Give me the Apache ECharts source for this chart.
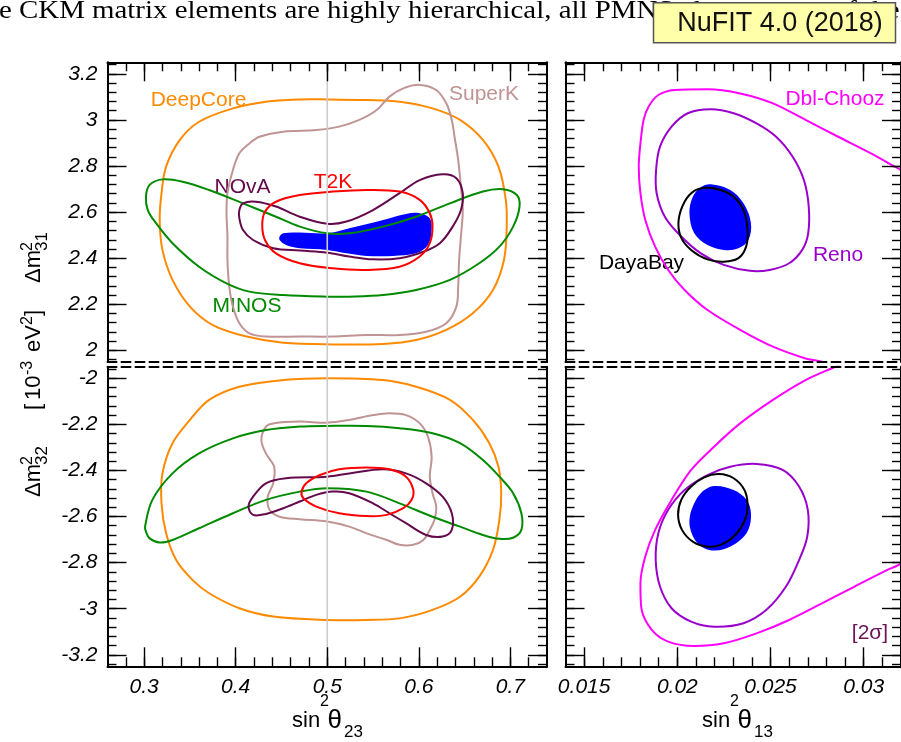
<!DOCTYPE html>
<html>
<head>
<meta charset="utf-8">
<script src="https://cdn.jsdelivr.net/npm/echarts@6/dist/echarts.min.js"></script>
<style>html,body{margin:0;padding:0;background:#fff;}#chart{width:901px;height:742px;}</style>
</head>
<body>
<div id="chart"></div>
<script>
// ---------- axis ranges and ticks ----------
const theta23Range = [0.26, 0.74];
const theta13Range = [0.014, 0.032];
const dm31Range = [1.95, 3.25];
const dm32Range = [-3.25, -1.95];

const theta23Major = [0.3, 0.4, 0.5, 0.6, 0.7];
const theta23Minor = [0.28, 0.3, 0.32, 0.34, 0.36, 0.38, 0.4, 0.42, 0.44, 0.46, 0.48, 0.5, 0.52, 0.54, 0.56, 0.58, 0.6, 0.62, 0.64, 0.66, 0.68, 0.7, 0.72];
const theta13Major = [0.015, 0.02, 0.025, 0.03];
const theta13Minor = [0.015, 0.016, 0.017, 0.018, 0.019, 0.02, 0.021, 0.022, 0.023, 0.024, 0.025, 0.026, 0.027, 0.028, 0.029, 0.03, 0.031];
const dm31Major = [2, 2.2, 2.4, 2.6, 2.8, 3, 3.2];
const dm31Minor = [1.96, 2, 2.04, 2.08, 2.12, 2.16, 2.2, 2.24, 2.28, 2.32, 2.36, 2.4, 2.44, 2.48, 2.52, 2.56, 2.6, 2.64, 2.68, 2.72, 2.76, 2.8, 2.84, 2.88, 2.92, 2.96, 3, 3.04, 3.08, 3.12, 3.16, 3.2, 3.24];
const dm32Major = [-3.2, -3, -2.8, -2.6, -2.4, -2.2, -2];
const dm32Minor = [-3.24, -3.2, -3.16, -3.12, -3.08, -3.04, -3, -2.96, -2.92, -2.88, -2.84, -2.8, -2.76, -2.72, -2.68, -2.64, -2.6, -2.56, -2.52, -2.48, -2.44, -2.4, -2.36, -2.32, -2.28, -2.24, -2.2, -2.16, -2.12, -2.08, -2.04, -2, -1.96];

const maximalMixing = 0.5;

// ---------- contours: sin^2(theta23) vs Delta m^2_31 (normal ordering) ----------
const deepCoreNO = [[0.500,3.089],[0.543,3.086],[0.579,3.079],[0.615,3.050],[0.645,3.000],[0.670,2.913],[0.687,2.797],[0.695,2.653],[0.696,2.537],[0.693,2.392],[0.681,2.262],[0.659,2.161],[0.630,2.089],[0.597,2.045],[0.561,2.028],[0.506,2.026],[0.452,2.033],[0.412,2.060],[0.375,2.110],[0.350,2.190],[0.331,2.306],[0.320,2.436],[0.317,2.566],[0.319,2.682],[0.324,2.797],[0.339,2.913],[0.360,2.992],[0.397,3.050],[0.433,3.079],[0.470,3.089]];
const superKNO = [[0.601,3.152],[0.619,3.130],[0.630,3.072],[0.636,3.000],[0.639,2.927],[0.643,2.826],[0.646,2.710],[0.648,2.609],[0.646,2.494],[0.644,2.392],[0.643,2.277],[0.641,2.190],[0.630,2.118],[0.608,2.081],[0.579,2.067],[0.543,2.067],[0.506,2.060],[0.470,2.060],[0.433,2.060],[0.415,2.074],[0.404,2.118],[0.397,2.190],[0.393,2.277],[0.391,2.392],[0.391,2.494],[0.390,2.595],[0.391,2.682],[0.397,2.783],[0.404,2.855],[0.415,2.898],[0.426,2.927],[0.452,2.949],[0.488,2.956],[0.513,2.971],[0.535,3.000],[0.554,3.043],[0.568,3.101],[0.583,3.137]];
const t2kNO = [[0.429,2.544],[0.432,2.602],[0.444,2.645],[0.470,2.674],[0.506,2.689],[0.543,2.696],[0.579,2.689],[0.601,2.653],[0.612,2.595],[0.615,2.537],[0.612,2.465],[0.601,2.407],[0.579,2.363],[0.543,2.349],[0.506,2.356],[0.470,2.378],[0.444,2.421],[0.432,2.479]];
const novaNO = [[0.404,2.609],[0.408,2.638],[0.422,2.645],[0.444,2.624],[0.470,2.580],[0.500,2.549],[0.521,2.559],[0.550,2.609],[0.579,2.682],[0.601,2.739],[0.626,2.764],[0.641,2.747],[0.648,2.682],[0.646,2.609],[0.637,2.537],[0.623,2.465],[0.605,2.428],[0.579,2.400],[0.550,2.395],[0.524,2.407],[0.500,2.424],[0.470,2.433],[0.441,2.443],[0.419,2.479],[0.408,2.522],[0.404,2.573]];
const minosNO = [[0.302,2.667],[0.306,2.718],[0.320,2.742],[0.342,2.732],[0.371,2.696],[0.408,2.638],[0.444,2.580],[0.470,2.537],[0.500,2.508],[0.524,2.508],[0.561,2.537],[0.597,2.580],[0.634,2.638],[0.670,2.689],[0.692,2.699],[0.707,2.674],[0.710,2.624],[0.703,2.537],[0.688,2.450],[0.666,2.378],[0.634,2.306],[0.597,2.262],[0.561,2.240],[0.524,2.233],[0.500,2.233],[0.452,2.240],[0.415,2.255],[0.390,2.291],[0.360,2.363],[0.331,2.465],[0.313,2.552],[0.304,2.609]];
const globalNO23 = [[0.448,2.494],[0.452,2.508],[0.470,2.511],[0.500,2.508],[0.524,2.530],[0.561,2.566],[0.586,2.592],[0.601,2.595],[0.612,2.573],[0.614,2.522],[0.610,2.457],[0.597,2.421],[0.572,2.410],[0.543,2.410],[0.521,2.421],[0.500,2.436],[0.470,2.443],[0.455,2.457],[0.448,2.479]];

// ---------- contours: sin^2(theta23) vs Delta m^2_32 (inverted ordering) ----------
const deepCoreIO = [[0.500,-2.000],[0.561,-2.008],[0.597,-2.037],[0.634,-2.094],[0.659,-2.181],[0.677,-2.282],[0.687,-2.384],[0.690,-2.499],[0.688,-2.615],[0.681,-2.745],[0.666,-2.861],[0.645,-2.948],[0.615,-3.005],[0.579,-3.042],[0.543,-3.049],[0.500,-3.049],[0.441,-3.034],[0.404,-2.998],[0.371,-2.933],[0.353,-2.876],[0.335,-2.789],[0.324,-2.673],[0.319,-2.543],[0.320,-2.413],[0.331,-2.282],[0.350,-2.181],[0.371,-2.094],[0.404,-2.037],[0.452,-2.008]];
const superKIO = [[0.433,-2.210],[0.441,-2.196],[0.470,-2.188],[0.500,-2.193],[0.524,-2.181],[0.550,-2.160],[0.568,-2.152],[0.586,-2.160],[0.601,-2.196],[0.610,-2.254],[0.614,-2.340],[0.612,-2.427],[0.615,-2.499],[0.619,-2.557],[0.617,-2.615],[0.612,-2.658],[0.605,-2.702],[0.594,-2.723],[0.579,-2.723],[0.565,-2.702],[0.543,-2.673],[0.524,-2.644],[0.500,-2.622],[0.470,-2.612],[0.448,-2.601],[0.437,-2.571],[0.435,-2.514],[0.441,-2.456],[0.442,-2.384],[0.433,-2.326],[0.428,-2.268]];
const novaIO = [[0.414,-2.557],[0.419,-2.514],[0.433,-2.456],[0.455,-2.434],[0.500,-2.427],[0.524,-2.413],[0.561,-2.395],[0.586,-2.413],[0.608,-2.456],[0.626,-2.514],[0.636,-2.586],[0.636,-2.658],[0.626,-2.687],[0.608,-2.680],[0.586,-2.629],[0.568,-2.586],[0.550,-2.543],[0.524,-2.499],[0.506,-2.492],[0.488,-2.506],[0.470,-2.535],[0.452,-2.564],[0.433,-2.589],[0.419,-2.593]];
const t2kIO = [[0.472,-2.492],[0.477,-2.456],[0.492,-2.420],[0.513,-2.395],[0.543,-2.387],[0.568,-2.395],[0.586,-2.427],[0.594,-2.485],[0.592,-2.528],[0.583,-2.564],[0.565,-2.593],[0.543,-2.598],[0.513,-2.586],[0.488,-2.557],[0.474,-2.521]];
const minosIO = [[0.301,-2.644],[0.309,-2.528],[0.331,-2.413],[0.360,-2.326],[0.397,-2.261],[0.433,-2.225],[0.470,-2.210],[0.500,-2.207],[0.543,-2.207],[0.579,-2.217],[0.615,-2.239],[0.645,-2.282],[0.670,-2.355],[0.688,-2.427],[0.703,-2.499],[0.712,-2.586],[0.712,-2.658],[0.703,-2.692],[0.688,-2.697],[0.670,-2.680],[0.645,-2.644],[0.615,-2.601],[0.579,-2.543],[0.543,-2.492],[0.500,-2.477],[0.470,-2.492],[0.433,-2.528],[0.397,-2.586],[0.360,-2.651],[0.331,-2.702],[0.317,-2.713],[0.306,-2.695],[0.302,-2.666]];

// ---------- contours: sin^2(theta13) vs Delta m^2_31 ----------
const dblChoozNO = [[0.03302,2.739],[0.03167,2.797],[0.03039,2.855],[0.02863,2.927],[0.02688,3.000],[0.02513,3.072],[0.02337,3.115],[0.02162,3.133],[0.01986,3.130],[0.01898,3.108],[0.01846,3.058],[0.01819,3.000],[0.01802,2.898],[0.01793,2.797],[0.01802,2.682],[0.01828,2.566],[0.01881,2.450],[0.01951,2.349],[0.02039,2.262],[0.02162,2.175],[0.02337,2.089],[0.02513,2.016],[0.02688,1.965],[0.02776,1.951],[0.02863,1.915]];
const renoNO = [[0.02179,3.046],[0.02302,3.029],[0.02425,2.985],[0.02530,2.927],[0.02618,2.841],[0.02679,2.739],[0.02705,2.624],[0.02702,2.508],[0.02670,2.436],[0.02600,2.378],[0.02495,2.349],[0.02390,2.345],[0.02249,2.371],[0.02126,2.421],[0.02021,2.494],[0.01933,2.580],[0.01889,2.682],[0.01886,2.783],[0.01907,2.884],[0.01969,2.971],[0.02056,3.029]];
const dayaBayNO = [[0.02153,2.706],[0.02232,2.696],[0.02302,2.667],[0.02355,2.609],[0.02377,2.522],[0.02369,2.450],[0.02328,2.400],[0.02249,2.385],[0.02162,2.395],[0.02074,2.436],[0.02018,2.494],[0.02007,2.566],[0.02039,2.645],[0.02091,2.692]];
const globalNO13 = [[0.02179,2.721],[0.02284,2.696],[0.02355,2.638],[0.02395,2.552],[0.02381,2.479],[0.02328,2.443],[0.02249,2.436],[0.02162,2.457],[0.02091,2.508],[0.02065,2.595],[0.02083,2.667],[0.02126,2.708]];

// ---------- contours: sin^2(theta13) vs Delta m^2_32 ----------
const dblChoozIO = [[0.02916,-1.921],[0.02855,-1.947],[0.02688,-2.008],[0.02513,-2.094],[0.02337,-2.196],[0.02197,-2.297],[0.02074,-2.398],[0.01969,-2.528],[0.01881,-2.658],[0.01828,-2.774],[0.01802,-2.890],[0.01807,-2.998],[0.01863,-3.092],[0.01951,-3.143],[0.02091,-3.162],[0.02249,-3.150],[0.02425,-3.107],[0.02600,-3.049],[0.02776,-2.977],[0.02951,-2.904],[0.03127,-2.832],[0.03167,-2.818],[0.03302,-2.767]];
const renoIO = [[0.02425,-2.372],[0.02565,-2.398],[0.02653,-2.470],[0.02700,-2.571],[0.02697,-2.687],[0.02653,-2.789],[0.02583,-2.904],[0.02478,-3.005],[0.02355,-3.063],[0.02197,-3.078],[0.02074,-3.056],[0.01969,-2.998],[0.01907,-2.904],[0.01884,-2.789],[0.01898,-2.673],[0.01951,-2.571],[0.02039,-2.485],[0.02162,-2.420],[0.02284,-2.384]];
const dayaBayIO = [[0.02223,-2.416],[0.02302,-2.434],[0.02360,-2.485],[0.02377,-2.550],[0.02363,-2.615],[0.02311,-2.680],[0.02232,-2.723],[0.02162,-2.731],[0.02083,-2.709],[0.02025,-2.658],[0.02004,-2.593],[0.02021,-2.528],[0.02074,-2.470],[0.02144,-2.430]];
const globalIO13 = [[0.02197,-2.468],[0.02302,-2.485],[0.02372,-2.528],[0.02395,-2.586],[0.02381,-2.658],[0.02328,-2.709],[0.02249,-2.742],[0.02170,-2.745],[0.02109,-2.716],[0.02074,-2.666],[0.02065,-2.615],[0.02083,-2.557],[0.02126,-2.499]];

// ---------- styles ----------
const C = {
  deepCore: '#ff8a00', superK: '#c09494', t2k: '#ff0000', nova: '#640a4c',
  minos: '#008a00', best: '#0000ff', dbl: '#ff00ff', reno: '#9a00cc', daya: '#000000',
  sigma: '#6a1456', mix: '#cccccc'
};
const SANS = '"Liberation Sans", Arial, Helvetica, sans-serif';
const SERIF = '"Liberation Serif", "Times New Roman", serif';

const grids = [
  { left: 107.5, top: 62.3, width: 439.5, height: 299.6 },
  { left: 107.5, top: 366.7, width: 439.5, height: 299.6 },
  { left: 565.5, top: 62.3, width: 342, height: 299.6 },
  { left: 565.5, top: 366.7, width: 342, height: 299.6 }
];

const xAxes = [], yAxes = [];
const DASH = [9, 5];
function axisObj(dim, gi, range, pos, ticks, len, opts) {
  const o = {
    type: 'value', gridIndex: gi, position: pos, min: range[0], max: range[1],
    splitLine: { show: false }, splitArea: { show: false },
    axisLine: { show: !!opts.line, onZero: false, lineStyle: { color: '#000', width: 2, type: opts.dashed ? DASH : 'solid' } },
    axisTick: { show: !!opts.ticks, inside: true, length: len, customValues: ticks, lineStyle: { color: '#000', width: 1.4 } },
    axisLabel: { show: !!opts.labels, customValues: ticks, margin: opts.margin || 10,
      fontFamily: SANS, fontStyle: 'italic', fontSize: 21, color: '#000' },
    axisPointer: { show: false }, silent: true, z: 5
  };
  (dim === 'x' ? xAxes : yAxes).push(o);
  return (dim === 'x' ? xAxes : yAxes).length - 1;
}
function panel(gi, xr, yr, xMaj, xMin, yMaj, yMin, showX, showY, dashedSide) {
  const xi = axisObj('x', gi, xr, 'bottom', xMaj, 19, { line: true, dashed: dashedSide === 'bottom', ticks: dashedSide !== 'bottom', labels: showX, margin: 10 });
  axisObj('x', gi, xr, 'bottom', xMin, 9, { ticks: dashedSide !== 'bottom' });
  axisObj('x', gi, xr, 'top', xMaj, 19, { line: true, dashed: dashedSide === 'top', ticks: dashedSide !== 'top' });
  axisObj('x', gi, xr, 'top', xMin, 9, { ticks: dashedSide !== 'top' });
  const yi = axisObj('y', gi, yr, 'left', yMaj, 19, { line: true, ticks: true, labels: showY, margin: 10 });
  axisObj('y', gi, yr, 'left', yMin, 9, { ticks: true });
  axisObj('y', gi, yr, 'right', yMaj, 19, { line: true, ticks: true });
  axisObj('y', gi, yr, 'right', yMin, 9, { ticks: true });
  return [xi, yi];
}
const P0 = panel(0, theta23Range, dm31Range, theta23Major, theta23Minor, dm31Major, dm31Minor, false, true, 'bottom');
const P1 = panel(1, theta23Range, dm32Range, theta23Major, theta23Minor, dm32Major, dm32Minor, true, true, 'top');
const P2 = panel(2, theta13Range, dm31Range, theta13Major, theta13Minor, dm31Major, dm31Minor, false, false, 'bottom');
const P3 = panel(3, theta13Range, dm32Range, theta13Major, theta13Minor, dm32Major, dm32Minor, true, false, 'top');

function region(name, pts, color, P, fill) {
  return {
    type: 'custom', name: name, xAxisIndex: P[0], yAxisIndex: P[1],
    data: pts, silent: true, animation: false, z: fill ? 2 : 3,
    renderItem: function (params, api) {
      if (params.dataIndex !== 0) return null;
      const points = pts.map(function (p) { return api.coord(p); });
      return {
        type: 'polygon',
        shape: { points: points, smooth: 0.35 },
        style: fill ? { fill: color, stroke: null } : { fill: 'none', stroke: color, lineWidth: 2 }
      };
    }
  };
}
function openCurve(name, pts, color, P) {
  return {
    type: 'line', name: name, xAxisIndex: P[0], yAxisIndex: P[1], data: pts,
    smooth: 0.3, showSymbol: false, symbol: 'none', clip: true, silent: true, animation: false, z: 3,
    lineStyle: { color: color, width: 2 }
  };
}
function mixLine(P, yr) {
  return {
    type: 'line', xAxisIndex: P[0], yAxisIndex: P[1],
    data: [[maximalMixing, yr[0]], [maximalMixing, yr[1]]],
    showSymbol: false, symbol: 'none', silent: true, animation: false, z: 4,
    lineStyle: { color: C.mix, width: 1.6 }
  };
}

const series = [
  region('best', globalNO23, C.best, P0, true),
  region('DeepCore', deepCoreNO, C.deepCore, P0),
  region('SuperK', superKNO, C.superK, P0),
  region('MINOS', minosNO, C.minos, P0),
  region('NOvA', novaNO, C.nova, P0),
  region('T2K', t2kNO, C.t2k, P0),
  mixLine(P0, dm31Range),
  region('DeepCore', deepCoreIO, C.deepCore, P1),
  region('SuperK', superKIO, C.superK, P1),
  region('MINOS', minosIO, C.minos, P1),
  region('NOvA', novaIO, C.nova, P1),
  region('T2K', t2kIO, C.t2k, P1),
  mixLine(P1, dm32Range),
  region('best', globalNO13, C.best, P2, true),
  openCurve('Dbl-Chooz', dblChoozNO, C.dbl, P2),
  region('Reno', renoNO, C.reno, P2),
  region('DayaBay', dayaBayNO, C.daya, P2),
  region('best', globalIO13, C.best, P3, true),
  openCurve('Dbl-Chooz', dblChoozIO, C.dbl, P3),
  region('Reno', renoIO, C.reno, P3),
  region('DayaBay', dayaBayIO, C.daya, P3)
];

// ---------- text ----------
function txt(text, x, y, size, color, align, extra) {
  const e = { type: 'text', x: x, y: y, silent: true,
    style: { text: text, font: size + 'px ' + SANS, fill: color || '#000',
      align: align || 'center', textAlign: align || 'center', verticalAlign: 'middle', textVerticalAlign: 'middle' } };
  if (extra) Object.assign(e, extra);
  return e;
}
const labelSize = 21;
const graphics = [
  { type: 'text', x: -1, y: 11.8, scaleX: 1.155, silent: true,
    style: { text: 'e CKM matrix elements are highly hierarchical, all PMNS elements are of the same order', font: '25px ' + SERIF, fill: '#000', align: 'left', textAlign: 'left', verticalAlign: 'middle', textVerticalAlign: 'middle' } },
  { type: 'rect', shape: { x: 653.5, y: 2.7, width: 242, height: 40 }, style: { fill: '#ffffaa', stroke: '#555', lineWidth: 1.5 }, silent: true },
  txt('NuFIT 4.0 (2018)', 780, 23.6, 27, '#111'),
  txt('DeepCore', 198.5, 100.5, labelSize, C.deepCore),
  txt('SuperK', 484, 94.5, labelSize, C.superK),
  txt('NOvA', 242.5, 187.5, labelSize, C.nova),
  txt('T2K', 333, 181.8, labelSize, C.t2k),
  txt('MINOS', 247, 306.5, labelSize, C.minos),
  txt('Dbl-Chooz', 835, 99.5, labelSize, C.dbl),
  txt('Reno', 838, 255, labelSize, C.reno),
  txt('DayaBay', 641.5, 263.5, labelSize, C.daya),
  txt('[2σ]', 870, 633, labelSize, C.sigma)
];
// x-axis names
function xName(baseX, sub) {
  return [
    txt('sin', baseX, 721.4, 22, '#000', 'left'),
    txt('2', baseX + 28, 701.5, 16, '#000', 'left'),
    txt('θ', baseX + 35.5, 721, 26, '#000', 'left'),
    txt(sub, baseX + 52, 732.1, 17, '#000', 'left')
  ];
}
graphics.push.apply(graphics, xName(292, '23'));
graphics.push.apply(graphics, xName(702, '13'));
// rotated y-axis name
const MAIN = -7.6, SUP = -14.5, SUB = 0.1;
graphics.push({
  type: 'group', x: 42, y: 365, rotation: Math.PI / 2, silent: true,
  children: [
    txt('Δm', -132, MAIN, 22, '#000', 'left'),
    txt('2', -100, SUP, 16, '#000', 'left'),
    txt('32', -100, SUB, 17, '#000', 'left'),
    txt('[', -45, MAIN, 22, '#000', 'left'),
    txt('10', -35, MAIN, 22, '#000', 'left'),
    txt('-3', -10, SUP, 16, '#000', 'left'),
    txt('eV', 13, MAIN, 22, '#000', 'left'),
    txt('2', 40, SUP, 16, '#000', 'left'),
    txt(']', 49, MAIN, 22, '#000', 'left'),
    txt('Δm', 82, MAIN, 22, '#000', 'left'),
    txt('2', 114, SUP, 16, '#000', 'left'),
    txt('31', 114, SUB, 17, '#000', 'left')
  ]
});

const chart = echarts.init(document.getElementById('chart'), null, { renderer: 'canvas' });
chart.setOption({
  animation: false,
  backgroundColor: '#ffffff',
  grid: grids,
  xAxis: xAxes,
  yAxis: yAxes,
  series: series,
  graphic: { elements: graphics }
});
</script>
</body>
</html>
